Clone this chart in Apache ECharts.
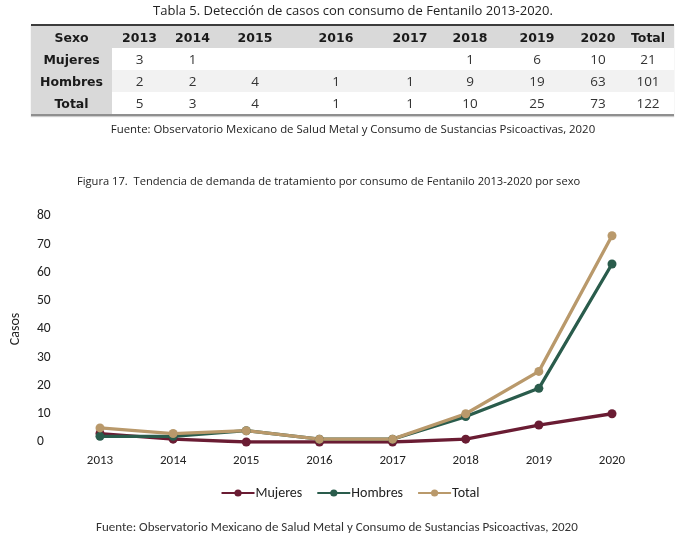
<!DOCTYPE html>
<html>
<head>
<meta charset="utf-8">
<script src="https://cdn.jsdelivr.net/npm/echarts@6/dist/echarts.min.js"></script>
<style>
  html, body { margin:0; padding:0; background:#fff; width:700px; height:546px; overflow:hidden; }
  #chart { position:absolute; left:0; top:0; width:700px; height:546px; }
  #tbl-wrap { position:absolute; left:0; top:0; width:700px; height:150px; z-index:2; }
  .ttl { position:absolute; left:0; width:700px; text-align:center; font-family:"Open Sans", sans-serif; color:#222; white-space:nowrap; }
  table { position:absolute; left:31px; top:24px; border-collapse:collapse; table-layout:fixed;
          font-family:"DejaVu Sans", sans-serif; border-top:2px solid #3c3c3c; border-bottom:2px solid #8f8f8f;
          box-shadow:0 1px 1px rgba(0,0,0,0.2); }
  td, th { padding:0; height:22px; text-align:center; vertical-align:middle; }
  th { font-weight:bold; font-size:12.5px; color:#1a1a1a; background:#d9d9d9; }
  td { font-family:"Open Sans", sans-serif; font-size:13.5px; color:#333; font-weight:400; }
  td.lbl { font-family:"DejaVu Sans", sans-serif; font-weight:bold; font-size:12.5px; color:#1a1a1a; background:#d9d9d9; }
  tr.alt td { background:#f2f2f2; }
  tr.alt td.lbl { background:#d9d9d9; }
</style>
</head>
<body>
<div id="chart"></div>
<div id="tbl-wrap">
  <div class="ttl" id="tblTitle" style="top:1px;font-size:13px;left:3px;"></div>
  <table id="tbl"></table>
  <div class="ttl" id="tblSrc" style="top:121px;font-size:11.4px;left:3px;"></div>
</div>
<script>
// ---- data ----
const years = ['2013','2014','2015','2016','2017','2018','2019','2020'];
const mujeres = [3, 1, 0, 0, 0, 1, 6, 10];
const hombres = [2, 2, 4, 1, 1, 9, 19, 63];
const total   = [5, 3, 4, 1, 1, 10, 25, 73];
const rowTotals = [21, 101, 122];
const seriesNames = ['Mujeres', 'Hombres', 'Total'];
const yTicks = [0, 10, 20, 30, 40, 50, 60, 70, 80];

const tableTitle = 'Tabla 5. Detección de casos con consumo de Fentanilo 2013-2020.';
const sourceText = 'Fuente: Observatorio Mexicano de Salud Metal y Consumo de Sustancias Psicoactivas, 2020';
const figTitle = 'Figura 17.  Tendencia de demanda de tratamiento por consumo de Fentanilo 2013-2020 por sexo';

// ---- table ----
const colWidths = [81, 55, 51, 74, 88, 60, 60, 74, 48, 52];
document.getElementById('tblTitle').textContent = tableTitle;
document.getElementById('tblSrc').textContent = sourceText;
const tbl = document.getElementById('tbl');
let html = '<colgroup>' + colWidths.map(w => '<col style="width:' + w + 'px">').join('') + '</colgroup>';
html += '<tr><th>Sexo</th>' + years.map(y => '<th>' + y + '</th>').join('') + '<th>Total</th></tr>';
const rows = [mujeres, hombres, total];
rows.forEach((r, i) => {
  html += '<tr' + (i === 1 ? ' class="alt"' : '') + '><td class="lbl">' + seriesNames[i] + '</td>' +
    r.map(v => '<td>' + (v === 0 ? '' : v) + '</td>').join('') +
    '<td>' + rowTotals[i] + '</td></tr>';
});
tbl.innerHTML = html;

// ---- chart ----
const colors = ['#6a1c33', '#2a5c4c', '#b9996b'];
const chart = echarts.init(document.getElementById('chart'));
const fontC = 'Carlito, Calibri, Lato, sans-serif';
chart.setOption({
  animation: false,
  title: [
    { text: figTitle, left: 72, top: 171, textStyle: { fontFamily: '"Open Sans", sans-serif', fontSize: 11.15, fontWeight: 'normal', color: '#222' } },
    { text: sourceText, left: 91, top: 516, textStyle: { fontFamily: fontC, fontSize: 13, fontWeight: 'normal', color: '#333' } }
  ],
  legend: {
    data: seriesNames,
    top: 481,
    left: 'center',
    itemWidth: 33,
    itemHeight: 9,
    itemGap: 14,
    textStyle: { fontFamily: fontC, fontSize: 14, color: '#222', padding: [0, 0, 0, -4] }
  },
  grid: { left: 99, right: 88, top: 216, bottom: 104, containLabel: false },
  xAxis: {
    type: 'category',
    data: years,
    boundaryGap: false,
    axisLine: { show: false },
    axisTick: { show: false },
    axisLabel: { margin: 12, fontFamily: fontC, fontSize: 13, color: '#222' }
  },
  yAxis: {
    type: 'value',
    min: yTicks[0],
    max: yTicks[yTicks.length - 1],
    interval: 10,
    name: 'Casos',
    nameLocation: 'middle',
    nameGap: 78,
    nameTextStyle: { fontFamily: fontC, fontSize: 14, color: '#222' },
    axisLine: { show: false },
    axisTick: { show: false },
    splitLine: { show: false },
    axisLabel: { margin: 63, align: 'left', fontFamily: fontC, fontSize: 13.5, color: '#222' }
  },
  series: [mujeres, hombres, total].map((d, i) => ({
    name: seriesNames[i],
    type: 'line',
    data: d,
    symbol: 'circle',
    symbolSize: 9,
    color: colors[i],
    lineStyle: { width: 3.3, color: colors[i] },
    itemStyle: { color: colors[i] }
  }))
});
</script>
</body>
</html>
